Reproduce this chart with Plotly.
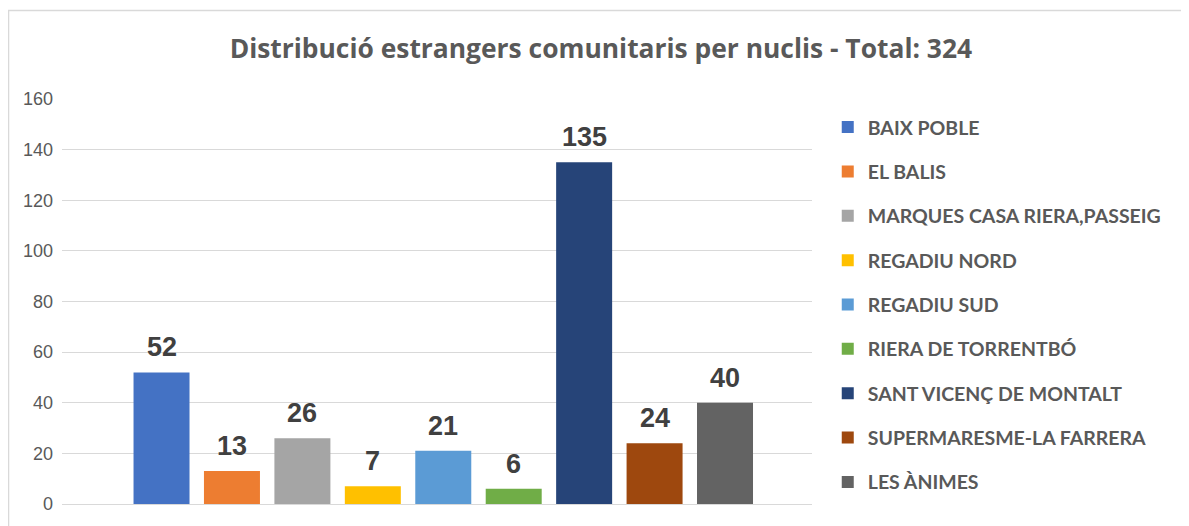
import plotly.graph_objects as go

categories = ["BAIX POBLE", "EL BALIS", "MARQUES CASA RIERA,PASSEIG", "REGADIU NORD",
              "REGADIU SUD", "RIERA DE TORRENTBÓ", "SANT VICENÇ DE MONTALT",
              "SUPERMARESME-LA FARRERA", "LES ÀNIMES"]
values = [52, 13, 26, 7, 21, 6, 135, 24, 40]
colors = ["#4472C4", "#ED7D31", "#A5A5A5", "#FFC000", "#5B9BD5", "#70AD47",
          "#264478", "#9E480E", "#636363"]
tick_vals = [0, 20, 40, 60, 80, 100, 120, 140, 160]

fig = go.Figure()
for name, v, c in zip(categories, values, colors):
    fig.add_trace(go.Bar(
        x=[name], y=[v], name=name, legendgroup=name,
        marker=dict(color=c, line=dict(width=0)),
    ))

annotations = [
    dict(x=name, y=v, xref="x", yref="y", text=str(v), showarrow=False,
         yanchor="bottom", yshift=8,
         font=dict(family="Liberation Sans", size=27, color="#404040", weight="bold"))
    for name, v in zip(categories, values)
]

fig.update_layout(
    width=1181, height=518,
    paper_bgcolor="white", plot_bgcolor="white",
    margin=dict(l=54, r=377, t=91, b=20),
    barmode="overlay", bargap=0.205,
    title=dict(text="Distribució estrangers comunitaris per nuclis - Total: 324",
               x=0.502, xanchor="center", y=0.921, yanchor="middle",
               font=dict(family="Open Sans", size=26.4, color="#595959", weight="bold")),
    xaxis=dict(type="category", range=[-1.413, 9.235], showticklabels=False,
               showgrid=False, zeroline=False, showline=False, fixedrange=True),
    yaxis=dict(range=[0, 160], tickvals=tick_vals, showgrid=True, gridcolor="#D9D9D9",
               gridwidth=1, zeroline=True, zerolinecolor="#D9D9D9", zerolinewidth=1,
               ticks="", ticklabelstandoff=8,
               tickfont=dict(family="Liberation Sans", size=18, color="#595959")),
    showlegend=True,
    legend=dict(x=1.021, xanchor="left", y=0.978, yanchor="top",
                font=dict(family="Lato", size=19.5, color="#595959", weight="bold"),
                tracegroupgap=16, itemwidth=30, bgcolor="rgba(0,0,0,0)"),
    annotations=annotations,
    shapes=[dict(type="rect", xref="paper", yref="paper",
                 x0=-0.0713, x1=1.4933, y0=-0.1, y1=1.2187,
                 line=dict(color="#D9D9D9", width=1.5), fillcolor="rgba(0,0,0,0)", layer="below")],
)

fig.write_html("out.html")
